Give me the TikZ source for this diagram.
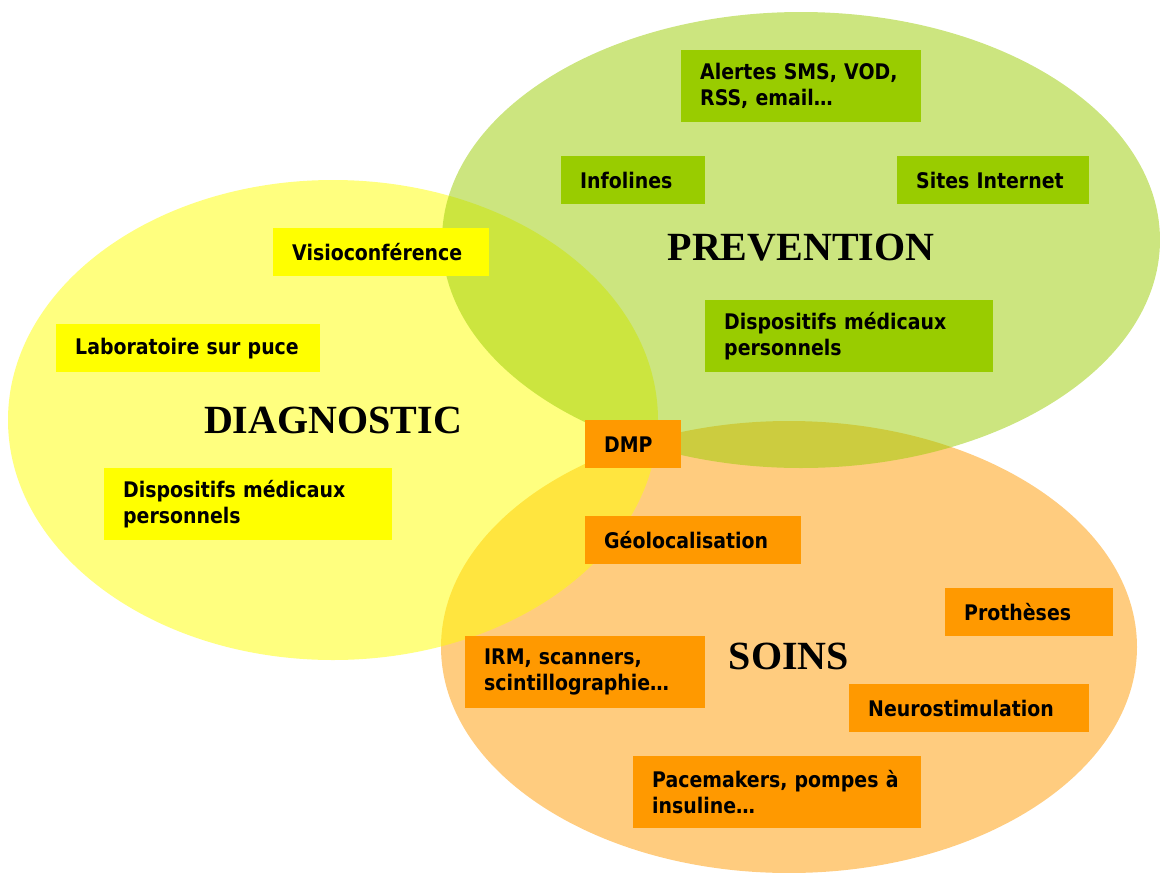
\documentclass[tikz,border=0pt]{standalone}
\usepackage{fontspec}
\setmainfont{Liberation Serif}
\newfontfamily\boxfont[FakeStretch=0.88]{DejaVu Sans}
\definecolor{diagcol}{HTML}{FFFF00}
\definecolor{prevcol}{HTML}{99CC00}
\definecolor{soincol}{HTML}{FF9900}
\tikzset{
	tag/.style = {anchor = north west, inner xsep = 19pt, inner ysep = 0pt, align = left, minimum height = 48pt, font = {\boxfont\bfseries\fontsize{21.5}{26}\selectfont}},
	title/.style = {inner sep = 0pt, font = {\bfseries\fontsize{40}{48}\selectfont}},
}
\begin{document}
\begin{tikzpicture}[x = 1pt, y = -1pt]
		\useasboundingbox (0, 0) rectangle (1160, 873);
		% the three fields
		\foreach \cx/\cy/\rx/\ry/\col in {789/647/348/226/soincol, 333/420/325/240/diagcol, 801/240/359/228/prevcol}{
			\fill[fill = \col, fill opacity = 0.5] (\cx, \cy) ellipse [x radius = \rx pt, y radius = \ry pt];}
		\node[title] (prevention) at (801, 248) {PREVENTION};
		\node[title] (diagnostic) at (333, 420) {DIAGNOSTIC};
		\node[title] (soins) at (789, 656) {SOINS};
		% prevention
		\node[tag, fill = prevcol, text width = 202pt, minimum height = 72pt] (alertes) at (681, 50) {Alertes SMS, VOD,\\RSS, email\ldots};
		\node[tag, fill = prevcol, text width = 106pt] (infolines) at (561, 156) {Infolines};
		\node[tag, fill = prevcol, text width = 154pt] (sites) at (897, 156) {Sites Internet};
		\node[tag, fill = prevcol, text width = 250pt, minimum height = 72pt] (dispoprev) at (705, 300) {Dispositifs médicaux\\personnels};
		% diagnostic
		\node[tag, fill = diagcol, text width = 178pt] (visio) at (273, 228) {Visioconférence};
		\node[tag, fill = diagcol, text width = 226pt] (labo) at (56, 324) {Laboratoire sur puce};
		\node[tag, fill = diagcol, text width = 250pt, minimum height = 72pt] (dispodiag) at (104, 468) {Dispositifs médicaux\\personnels};
		% soins
		\node[tag, fill = soincol, text width = 58pt] (dmp) at (585, 420) {DMP};
		\node[tag, fill = soincol, text width = 178pt] (geoloc) at (585, 516) {Géolocalisation};
		\node[tag, fill = soincol, text width = 130pt] (protheses) at (945, 588) {Prothèses};
		\node[tag, fill = soincol, text width = 202pt, minimum height = 72pt] (irm) at (465, 636) {IRM, scanners,\\scintillographie\ldots};
		\node[tag, fill = soincol, text width = 202pt] (neuro) at (849, 684) {Neurostimulation};
		\node[tag, fill = soincol, text width = 250pt, minimum height = 72pt] (pacemakers) at (633, 756) {Pacemakers, pompes à\\insuline\ldots};
\end{tikzpicture}
\end{document}
